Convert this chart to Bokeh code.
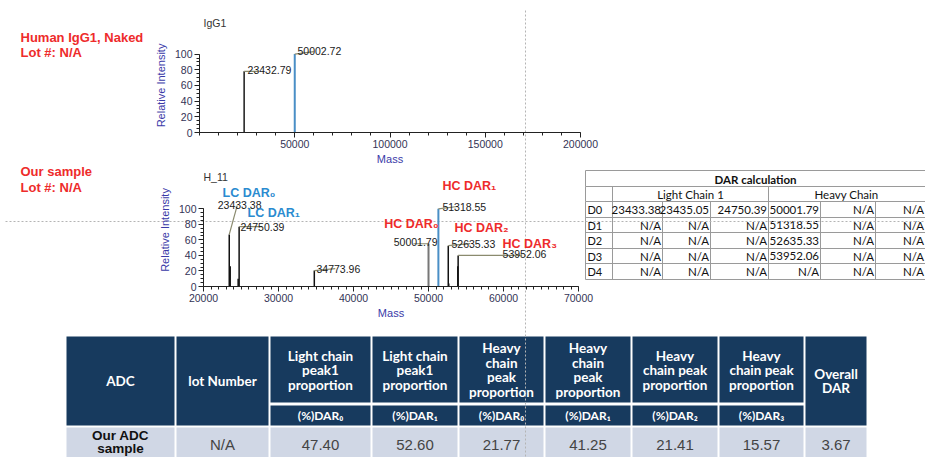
from bokeh.plotting import figure
from bokeh.models import Range1d, FixedTicker, GridBox, Column, BasicTickFormatter
from bokeh.core.properties import value
from bokeh.embed import file_html
from bokeh.resources import INLINE

# ---------------- data ----------------
# Spectrum 1 : IgG1 naked
igg1_mass = [23432.79, 50002.72]
igg1_int = [78, 100]
igg1_color = ["#1a1a1a", "#4a8fc6"]

# Spectrum 2 : H_11
h11_mass = [23433.38, 23560.0, 24620.0, 24750.39, 34773.96, 50001.79,
            51318.55, 52635.33, 52700.0, 53910.0, 53952.06]
h11_int = [67, 26, 10, 77, 20.5, 55, 100, 52.5, 4, 26, 40]
h11_color = ["#111111", "#111111", "#111111", "#111111", "#111111", "#777777",
             "#4a8fc6", "#111111", "#111111", "#111111", "#111111"]
h11_labeled = [23433.38, 24750.39, 34773.96, 50001.79, 51318.55, 52635.33, 53952.06]

dar_text = ["LC DAR\u2080", "LC DAR\u2081", "HC DAR\u2080", "HC DAR\u2081", "HC DAR\u2082", "HC DAR\u2083"]
dar_peak = [23433.38, 24750.39, 50001.79, 51318.55, 52635.33, 53952.06]
dar_color = ["#2a8bd0", "#2a8bd0", "#ee2b2b", "#ee2b2b", "#ee2b2b", "#ee2b2b"]

y_ticks = [0, 20, 40, 60, 80, 100]
x1_ticks = [50000, 100000, 150000, 200000]
x2_ticks = [20000, 30000, 40000, 50000, 60000, 70000]

# DAR calculation table
dar_rows = ["D0", "D1", "D2", "D3", "D4"]
lc1_vals = [["23433.38", "23435.05", "24750.39"],
            ["N/A", "N/A", "N/A"],
            ["N/A", "N/A", "N/A"],
            ["N/A", "N/A", "N/A"],
            ["N/A", "N/A", "N/A"]]
hc_vals = [["50001.79", "N/A", "N/A"],
           ["51318.55", "N/A", "N/A"],
           ["52635.33", "N/A", "N/A"],
           ["53952.06", "N/A", "N/A"],
           ["N/A", "N/A", "N/A"]]

# Summary table
sum_head = ["ADC", "lot Number", "Light chain\npeak1\nproportion", "Light chain\npeak1\nproportion",
            "Heavy\nchain\npeak\nproportion", "Heavy\nchain\npeak\nproportion",
            "Heavy\nchain peak\nproportion", "Heavy\nchain peak\nproportion", "Overall\nDAR"]
sum_sub = ["", "", "(%)DAR\u2080", "(%)DAR\u2081", "(%)DAR\u2080", "(%)DAR\u2081", "(%)DAR\u2082", "(%)DAR\u2083", ""]
sum_vals = ["Our ADC\nsample", "N/A", "47.40", "52.60", "21.77", "41.25", "21.41", "15.57", "3.67"]

# ---------------- styles ----------------
SANS = "Liberation Sans"
RED = "#ee2b2b"
NAVY = "#173a5e"
LIGHT = "#d0d7e5"
LEADER = "#8a8a6e"
DOT = "#b4b4b4"

# ---------------- canvas (window coordinates) ----------------
W, H = 925, 457
cv = figure(width=W, height=H, x_range=Range1d(0, W), y_range=Range1d(H, 0),
            min_border=0, output_backend="svg", toolbar_location=None, title=None,
            x_axis_type=None, y_axis_type=None)
cv.outline_line_color = None
cv.background_fill_color = None
cv.border_fill_color = None

def txt(p, xs, ys, ts, size, color="#222222", font=SANS, style="normal", align="left", base="middle"):
    p.text(x=xs, y=ys, text=ts, text_font=value(font), text_font_size=size,
           text_color=color, text_font_style=style, text_align=align, text_baseline=base)

# red sample labels
txt(cv, [20, 20, 20, 20], [37, 52, 171, 187],
    ["Human IgG1, Naked", "Lot #: N/A", "Our sample", "Lot #: N/A"], "13px", RED, style="bold")
# spectrum titles
txt(cv, [203, 203], [22, 176], ["IgG1", "H_11"], "10.5px", "#333333")

# ---- DAR calculation table ----
tx = [585, 612, 662, 710, 768, 820, 875, 925]
ty = [170, 186, 201, 217, 232, 248, 263, 279]
cv.quad(left=585, right=930, top=170, bottom=279, fill_color="white", line_color=None)
hx0, hx1, hy0, hy1 = [], [], [], []
for yv in ty:
    hx0.append(585); hx1.append(930); hy0.append(yv); hy1.append(yv)
cv.segment(x0=hx0, y0=hy0, x1=hx1, y1=hy1, line_color="#9a9a9a", line_width=1)
vx, vy0, vy1 = [], [], []
for xv in tx:
    vx.append(xv); vy0.append(201); vy1.append(279)
for xv in [585, 612, 768]:
    vx.append(xv); vy0.append(186); vy1.append(201)
vx.append(585); vy0.append(170); vy1.append(186)
cv.segment(x0=vx, y0=vy0, x1=vx, y1=vy1, line_color="#9a9a9a", line_width=1)
TF = "Lato"
txt(cv, [755], [178.5], ["DAR calculation"], "11.5px", "#111111", font=TF, style="bold", align="center")
txt(cv, [690, 846], [194, 194], ["Light Chain 1", "Heavy Chain"], "11.5px", "#111111", font=TF, align="center")
rc = [(ty[i + 2] + ty[i + 3]) / 2 for i in range(5)]
txt(cv, [587] * 5, rc, dar_rows, "11px", "#111111", font=TF)
vxs, vys, vts = [], [], []
for r in range(5):
    row = lc1_vals[r] + hc_vals[r]
    for c in range(6):
        vxs.append(tx[c + 2] - 1.5)
        vys.append(rc[r])
        vts.append(row[c])
txt(cv, vxs, vys, vts, "11.5px", "#111111", font=TF, align="right")

# ---- summary table ----
bx = [65, 175, 269, 371, 458, 544, 631, 718, 804, 867]
merged = [0, 1, 8]
L, R, T, B, C = [], [], [], [], []
for i in range(9):
    l, r = bx[i] + 1, bx[i + 1] - 1
    if i in merged:
        L.append(l); R.append(r); T.append(336); B.append(425); C.append(NAVY)
    else:
        L += [l, l]; R += [r, r]; T += [336, 405]; B += [402, 425]; C += [NAVY, NAVY]
    L.append(l); R.append(r); T.append(427); B.append(462); C.append(LIGHT)
cv.quad(left=L, right=R, top=T, bottom=B, fill_color=C, line_color=None)

HF = "Lato"
hxs, hys, hts = [], [], []
for i in range(9):
    lines = sum_head[i].split("\n")
    cx = (bx[i] + bx[i + 1]) / 2
    cy = 380.5 if i in merged else 369.5
    n = len(lines)
    for k, ln in enumerate(lines):
        hxs.append(cx); hys.append(cy + (k - (n - 1) / 2) * 14.5); hts.append(ln)
txt(cv, hxs, hys, hts, "13.5px", "white", font=HF, style="bold", align="center")
sxs = [(bx[i] + bx[i + 1]) / 2 for i in range(9) if sum_sub[i]]
sts = [s for s in sum_sub if s]
txt(cv, sxs, [415] * len(sxs), sts, "12px", "white", font=HF, style="bold", align="center")
# data row
first = sum_vals[0].split("\n")
txt(cv, [120, 120], [435, 448], first, "13.5px", "#111111", style="bold", align="center")
dxs = [(bx[i] + bx[i + 1]) / 2 for i in range(1, 9)]
txt(cv, dxs, [444] * 8, sum_vals[1:], "15px", "#444444", align="center")

# ---- crosshair dotted lines ----
cv.segment(x0=[525, 5], y0=[10, 221], x1=[525, 930], y1=[460, 221],
           line_color=DOT, line_width=1, line_dash="2 2")


# ---------------- spectrum figures ----------------
def style_spec(p):
    p.grid.visible = False
    p.outline_line_color = None
    p.background_fill_color = None
    p.border_fill_color = None
    for ax in p.axis:
        ax.axis_line_color = "#222222"
        ax.major_tick_line_color = "#222222"
        ax.minor_tick_line_color = "#222222"
        ax.major_tick_out = 5
        ax.major_tick_in = 0
        ax.minor_tick_out = 3
        ax.minor_tick_in = 0
        ax.major_label_text_font = SANS
        ax.major_label_text_font_size = "10.5px"
        ax.major_label_text_color = "#333355"
        ax.major_label_standoff = 2
        ax.axis_label_text_font = SANS
        ax.axis_label_text_font_size = "11px"
        ax.axis_label_text_color = "#3a3aa8"
        ax.axis_label_text_font_style = "normal"
    p.xaxis.axis_label = "Mass"
    p.xaxis.axis_label_standoff = 2
    p.yaxis.axis_label = "Relative Intensity"
    p.yaxis.axis_label_standoff = 5
    p.yaxis.bounds = (0, 100)
    p.yaxis.ticker = FixedTicker(ticks=y_ticks, minor_ticks=list(range(0, 101, 5)))
    p.xaxis.formatter = BasicTickFormatter(use_scientific=False)


# spectrum 1 : frame x 199..580, y 38..132 (0 at 132, 0.784 px per %)
F1W, F1H, PX1 = 381, 94, 0.784
s1 = figure(frame_width=F1W, frame_height=F1H, x_range=Range1d(0, 200000),
            y_range=Range1d(0, F1H / PX1), min_border_left=55, min_border_top=30,
            min_border_bottom=40, min_border_right=25, output_backend="svg",
            toolbar_location=None, title=None)
style_spec(s1)
s1.xaxis.ticker = FixedTicker(ticks=x1_ticks, minor_ticks=list(range(0, 200001, 10000)))
s1.segment(x0=igg1_mass, y0=[0] * 2, x1=igg1_mass, y1=igg1_int, line_color=igg1_color, line_width=[1.5, 2])
mx1 = 200000 / F1W
s1.segment(x0=igg1_mass, y0=igg1_int,
           x1=[m + d * mx1 for m, d in zip(igg1_mass, [14, 19])],
           y1=[h + d / PX1 for h, d in zip(igg1_int, [0, 2.5])], line_color=LEADER, line_width=1.2)
s1.text(x=igg1_mass, y=igg1_int, text=[f"{m:.2f}" for m in igg1_mass], x_offset=[3.4, 2.7], y_offset=[-1.5, -3],
        text_font=value(SANS), text_font_size="10.5px", text_color="#1a1a1a", text_baseline="alphabetic")

# spectrum 2 : frame x 203..578, y 173..286 (0 at 286, 0.777 px per %)
F2W, F2H, PX2 = 375, 113, 0.777
s2 = figure(frame_width=F2W, frame_height=F2H, x_range=Range1d(20000, 70000),
            y_range=Range1d(0, F2H / PX2), min_border_left=55, min_border_top=10,
            min_border_bottom=40, min_border_right=25, output_backend="svg",
            toolbar_location=None, title=None)
style_spec(s2)
s2.xaxis.ticker = FixedTicker(ticks=x2_ticks, minor_ticks=list(range(20000, 70001, 1000)))
s2.segment(x0=h11_mass, y0=[0] * len(h11_mass), x1=h11_mass, y1=h11_int, line_color=h11_color,
           line_width=[2 if c != "#111111" else 1.5 for c in h11_color])
mx2 = 50000 / F2W
hmap = dict(zip(h11_mass, h11_int))
lab_h = [hmap[m] for m in h11_labeled]
lead_dx = [8, 23, 21, -15, 19, 22, 64]
lead_dy = [29, 0, 2, 0, 2.3, 2, 0]
s2.segment(x0=h11_labeled, y0=lab_h,
           x1=[m + d * mx2 for m, d in zip(h11_labeled, lead_dx)],
           y1=[h + d / PX2 for h, d in zip(lab_h, lead_dy)], line_color=LEADER, line_width=1.2)
s2.text(x=h11_labeled, y=lab_h, text=[f"{m:.2f}" for m in h11_labeled],
        x_offset=[-11.5, 1.4, 2.2, 9, 4, 3.2, 44.4], y_offset=[-29, 0.5, -2, -1.3, -2.3, -2.2, -1],
        text_align=["left", "left", "left", "right", "left", "left", "left"],
        text_font=value(SANS), text_font_size="10.5px", text_color="#1a1a1a", text_baseline="alphabetic")
dar_h = [hmap[m] for m in dar_peak]
s2.text(x=dar_peak, y=dar_h, text=dar_text,
        x_offset=[-6.75, 8.4, 10, 4.1, 6.2, 44.4], y_offset=[-48, -20.2, -26.3, -30.3, -25.2, -18.9],
        text_align=["left", "left", "right", "left", "left", "left"],
        text_font=value(SANS), text_font_size="12.5px", text_font_style="bold",
        text_color=dar_color, text_baseline="top")

# wrappers carry the offsets so the grid does not align the plot frames
w1 = Column(children=[s1], margin=(38 - 30, 0, 0, 199 - 55))
w2 = Column(children=[s2], margin=(173 - 10, 0, 0, 203 - 55))

layout = GridBox(children=[(cv, 0, 0), (w1, 0, 0), (w2, 0, 0)])

open("out.html", "w").write(file_html(layout, INLINE))
